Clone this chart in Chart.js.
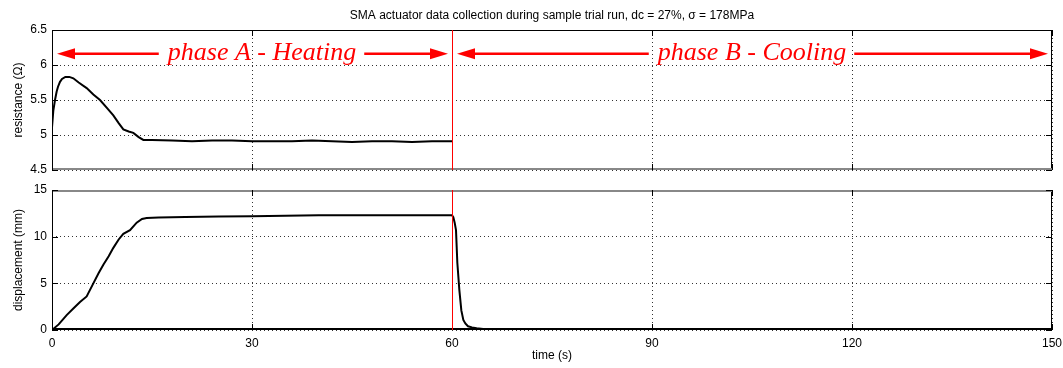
<!DOCTYPE html>
<html>
<head>
<meta charset="utf-8">
<script src="https://cdn.jsdelivr.net/npm/chart.js@4"></script>
<style>
  html, body { margin: 0; padding: 0; background: #fff; }
  #wrap { position: relative; width: 1063px; height: 368px; }
  #wrap canvas { position: absolute; left: 0; top: 0; }
</style>
</head>
<body>
<div id="wrap">
  <canvas id="resChart" width="1063" height="368"></canvas>
  <canvas id="dispChart" width="1063" height="368"></canvas>
</div>
<script>
// resistance trace (phase A only)
const resTime = [0, 0.2, 0.45, 0.7, 0.9, 1.2, 1.5, 2.0, 2.6, 3.2, 4.0, 5.2, 6.2, 7.2, 8.2, 9.2, 10.0, 10.7, 11.5, 12.2, 13.0, 13.7,
  15, 18, 21, 24, 27, 30, 33, 36, 39, 42, 45, 48, 51, 54, 57, 60];
const resValues = [5.11, 5.35, 5.5, 5.62, 5.69, 5.76, 5.8, 5.83, 5.83, 5.81, 5.75, 5.67, 5.58, 5.5, 5.39, 5.28, 5.17, 5.08, 5.05, 5.03, 4.97, 4.93,
  4.93, 4.92, 4.91, 4.92, 4.92, 4.91, 4.91, 4.91, 4.92, 4.91, 4.90, 4.91, 4.91, 4.90, 4.91, 4.91];

// displacement trace (both phases)
const dispTime = [0, 1, 2.2, 3.2, 4.2, 5.2, 6.2, 7.0, 7.7, 8.5, 9.2, 10.0, 10.7, 11.7, 12.7, 13.5, 14.2, 16, 20, 25, 30, 35, 40, 45, 50, 55, 60,
  60.2, 60.4, 60.6, 60.8, 61.1, 61.4, 61.7, 62.0, 62.4, 63.0, 63.7, 65, 66, 70, 150];
const dispValues = [0, 0.6, 1.6, 2.3, 3.0, 3.6, 5.0, 6.1, 7.0, 7.9, 8.8, 9.7, 10.3, 10.7, 11.5, 11.9, 12.0, 12.05, 12.1, 12.15, 12.2, 12.25, 12.3, 12.3, 12.3, 12.3, 12.3,
  12.1, 11.5, 10.7, 7.2, 4.3, 2.1, 1.07, 0.7, 0.4, 0.28, 0.2, 0.08, 0.02, 0, 0];

const timeTicks = [0, 30, 60, 90, 120, 150];
const resTicks = [4.5, 5, 5.5, 6, 6.5];
const dispTicks = [0, 5, 10, 15];

const phaseBoundary = 60;
const phaseLabels = ['phase A - Heating', 'phase B - Cooling'];
const phaseRanges = [[0, 60], [60, 150]];
const phaseLabelAt = [31.5, 105];
const arrowLevel = 6.16;
const labelBaseline = 6.07;

const chartTitle = 'SMA actuator data collection during sample trial run, dc = 27%, \u03c3 = 178MPa';

const FONT = '"Liberation Sans", Arial, Helvetica, sans-serif';

const toPoints = (xs, ys) => xs.map((x, i) => ({ x: x, y: ys[i] }));

// draws box, inner ticks, red phase line (and arrows + text for the top panel)
const matlabFrame = {
  id: 'matlabFrame',
  afterDatasetsDraw(chart, args, opts) {
    const ctx = chart.ctx;
    const a = chart.chartArea;
    const xs = chart.scales.x, ys = chart.scales.y;
    ctx.save();
    ctx.setLineDash([]);
    // box: left, top, right in black
    ctx.strokeStyle = '#000';
    ctx.lineWidth = 1;
    ctx.beginPath();
    ctx.moveTo(a.left + 0.5, a.bottom);
    ctx.lineTo(a.left + 0.5, a.top + 0.5);
    ctx.lineTo(a.right - 0.5, a.top + 0.5);
    ctx.lineTo(a.right - 0.5, a.bottom);
    ctx.stroke();
    if (opts.grayTop) {
      ctx.strokeStyle = '#888';
      ctx.lineWidth = 2;
      ctx.beginPath();
      ctx.moveTo(a.left, a.top + 1);
      ctx.lineTo(a.right, a.top + 1);
      ctx.stroke();
    }
    // bottom edge
    ctx.strokeStyle = opts.bottomColor;
    ctx.lineWidth = 2;
    ctx.beginPath();
    ctx.moveTo(a.left, a.bottom - 1);
    ctx.lineTo(a.right, a.bottom - 1);
    ctx.stroke();
    // inner ticks
    ctx.strokeStyle = '#000';
    ctx.lineWidth = 1;
    ctx.beginPath();
    timeTicks.forEach(t => {
      const px = Math.round(xs.getPixelForValue(t)) + 0.5;
      ctx.moveTo(px, a.bottom); ctx.lineTo(px, a.bottom - 6);
      ctx.moveTo(px, a.top); ctx.lineTo(px, a.top + 6);
    });
    opts.yTicks.forEach(v => {
      const py = Math.round(ys.getPixelForValue(v)) + 0.5;
      ctx.moveTo(a.left, py); ctx.lineTo(a.left + 6, py);
      ctx.moveTo(a.right, py); ctx.lineTo(a.right - 6, py);
    });
    ctx.stroke();
    // phase boundary
    const bx = Math.round(xs.getPixelForValue(phaseBoundary)) + 0.5;
    ctx.strokeStyle = '#ff0000';
    ctx.lineWidth = 1;
    ctx.beginPath();
    ctx.moveTo(bx, a.top); ctx.lineTo(bx, a.bottom);
    ctx.stroke();

    if (opts.phases) {
      ctx.font = 'italic 26px "Liberation Serif", "Times New Roman", serif';
      ctx.fillStyle = '#ff0000';
      ctx.strokeStyle = '#ff0000';
      ctx.textAlign = 'center';
      ctx.textBaseline = 'alphabetic';
      const ay = ys.getPixelForValue(arrowLevel);
      const ty = ys.getPixelForValue(labelBaseline);
      phaseLabels.forEach((txt, i) => {
        const cx = xs.getPixelForValue(phaseLabelAt[i]);
        const w = ctx.measureText(txt).width;
        ctx.fillText(txt, cx, ty);
        const x0 = xs.getPixelForValue(phaseRanges[i][0]) + 5;
        const x1 = xs.getPixelForValue(phaseRanges[i][1]) - 4;
        drawArrow(ctx, cx - w / 2 - 9, x0, ay);
        drawArrow(ctx, cx + w / 2 + 8, x1, ay);
      });
    }
    ctx.restore();
  }
};

function drawArrow(ctx, from, tip, y) {
  const dir = tip > from ? 1 : -1;
  const head = 18;
  ctx.lineWidth = 2.5;
  ctx.beginPath();
  ctx.moveTo(from, y);
  ctx.lineTo(tip - dir * head, y);
  ctx.stroke();
  ctx.beginPath();
  ctx.moveTo(tip, y);
  ctx.lineTo(tip - dir * head, y - 5.5);
  ctx.lineTo(tip - dir * head, y + 5.5);
  ctx.closePath();
  ctx.fill();
}

const dotted = { color: '#333', lineWidth: 1, drawTicks: false };
const dottedBorder = { display: false, dash: [1, 3] };

function yScale(min, max, ticks, title) {
  return {
    type: 'linear', min: min, max: max,
    afterBuildTicks: s => { s.ticks = ticks.map(v => ({ value: v })); },
    afterFit: s => { s.width = 52; },
    grid: dotted,
    border: dottedBorder,
    ticks: { color: '#000', padding: 5, font: { family: FONT, size: 12 }, callback: v => String(v) },
    title: { display: true, text: title, color: '#000', padding: { top: 11, bottom: 0 }, font: { family: FONT, size: 12 } }
  };
}

function xScale(height, showTicks) {
  return {
    type: 'linear', min: 0, max: 150,
    afterBuildTicks: s => { s.ticks = timeTicks.map(v => ({ value: v })); },
    afterFit: s => { s.height = height; s.paddingLeft = 0; s.paddingRight = 0; },
    grid: dotted,
    border: dottedBorder,
    ticks: { display: showTicks, color: '#000', padding: 6, maxRotation: 0, font: { family: FONT, size: 12 }, callback: v => String(v) },
    title: { display: showTicks, text: 'time (s)', color: '#000', padding: { top: 0, bottom: 5 }, font: { family: FONT, size: 12 } }
  };
}

const lineStyle = { borderColor: '#000', borderWidth: 2, pointRadius: 0, tension: 0, fill: false };

new Chart(document.getElementById('resChart'), {
  type: 'line',
  data: { datasets: [Object.assign({ data: toPoints(resTime, resValues) }, lineStyle)] },
  options: {
    responsive: false, animation: false,
    layout: { padding: { top: 0, right: 11, bottom: 0, left: 0 } },
    scales: { x: xScale(198, false), y: yScale(4.5, 6.5, resTicks, 'resistance (\u03a9)') },
    plugins: {
      legend: { display: false },
      tooltip: { enabled: false },
      title: { display: true, text: chartTitle, fullSize: false, color: '#000', padding: { top: 8, bottom: 7.6 }, font: { family: FONT, size: 12, weight: 'normal' } },
      matlabFrame: { yTicks: resTicks, phases: true, bottomColor: '#888' }
    }
  },
  plugins: [matlabFrame]
});

new Chart(document.getElementById('dispChart'), {
  type: 'line',
  data: { datasets: [Object.assign({ data: toPoints(dispTime, dispValues) }, lineStyle)] },
  options: {
    responsive: false, animation: false,
    layout: { padding: { top: 190, right: 11, bottom: 0, left: 0 } },
    scales: { x: xScale(38, true), y: yScale(0, 15, dispTicks, 'displacement (mm)') },
    plugins: {
      legend: { display: false },
      tooltip: { enabled: false },
      matlabFrame: { yTicks: dispTicks, phases: false, grayTop: true, bottomColor: '#000' }
    }
  },
  plugins: [matlabFrame]
});
</script>
</body>
</html>
